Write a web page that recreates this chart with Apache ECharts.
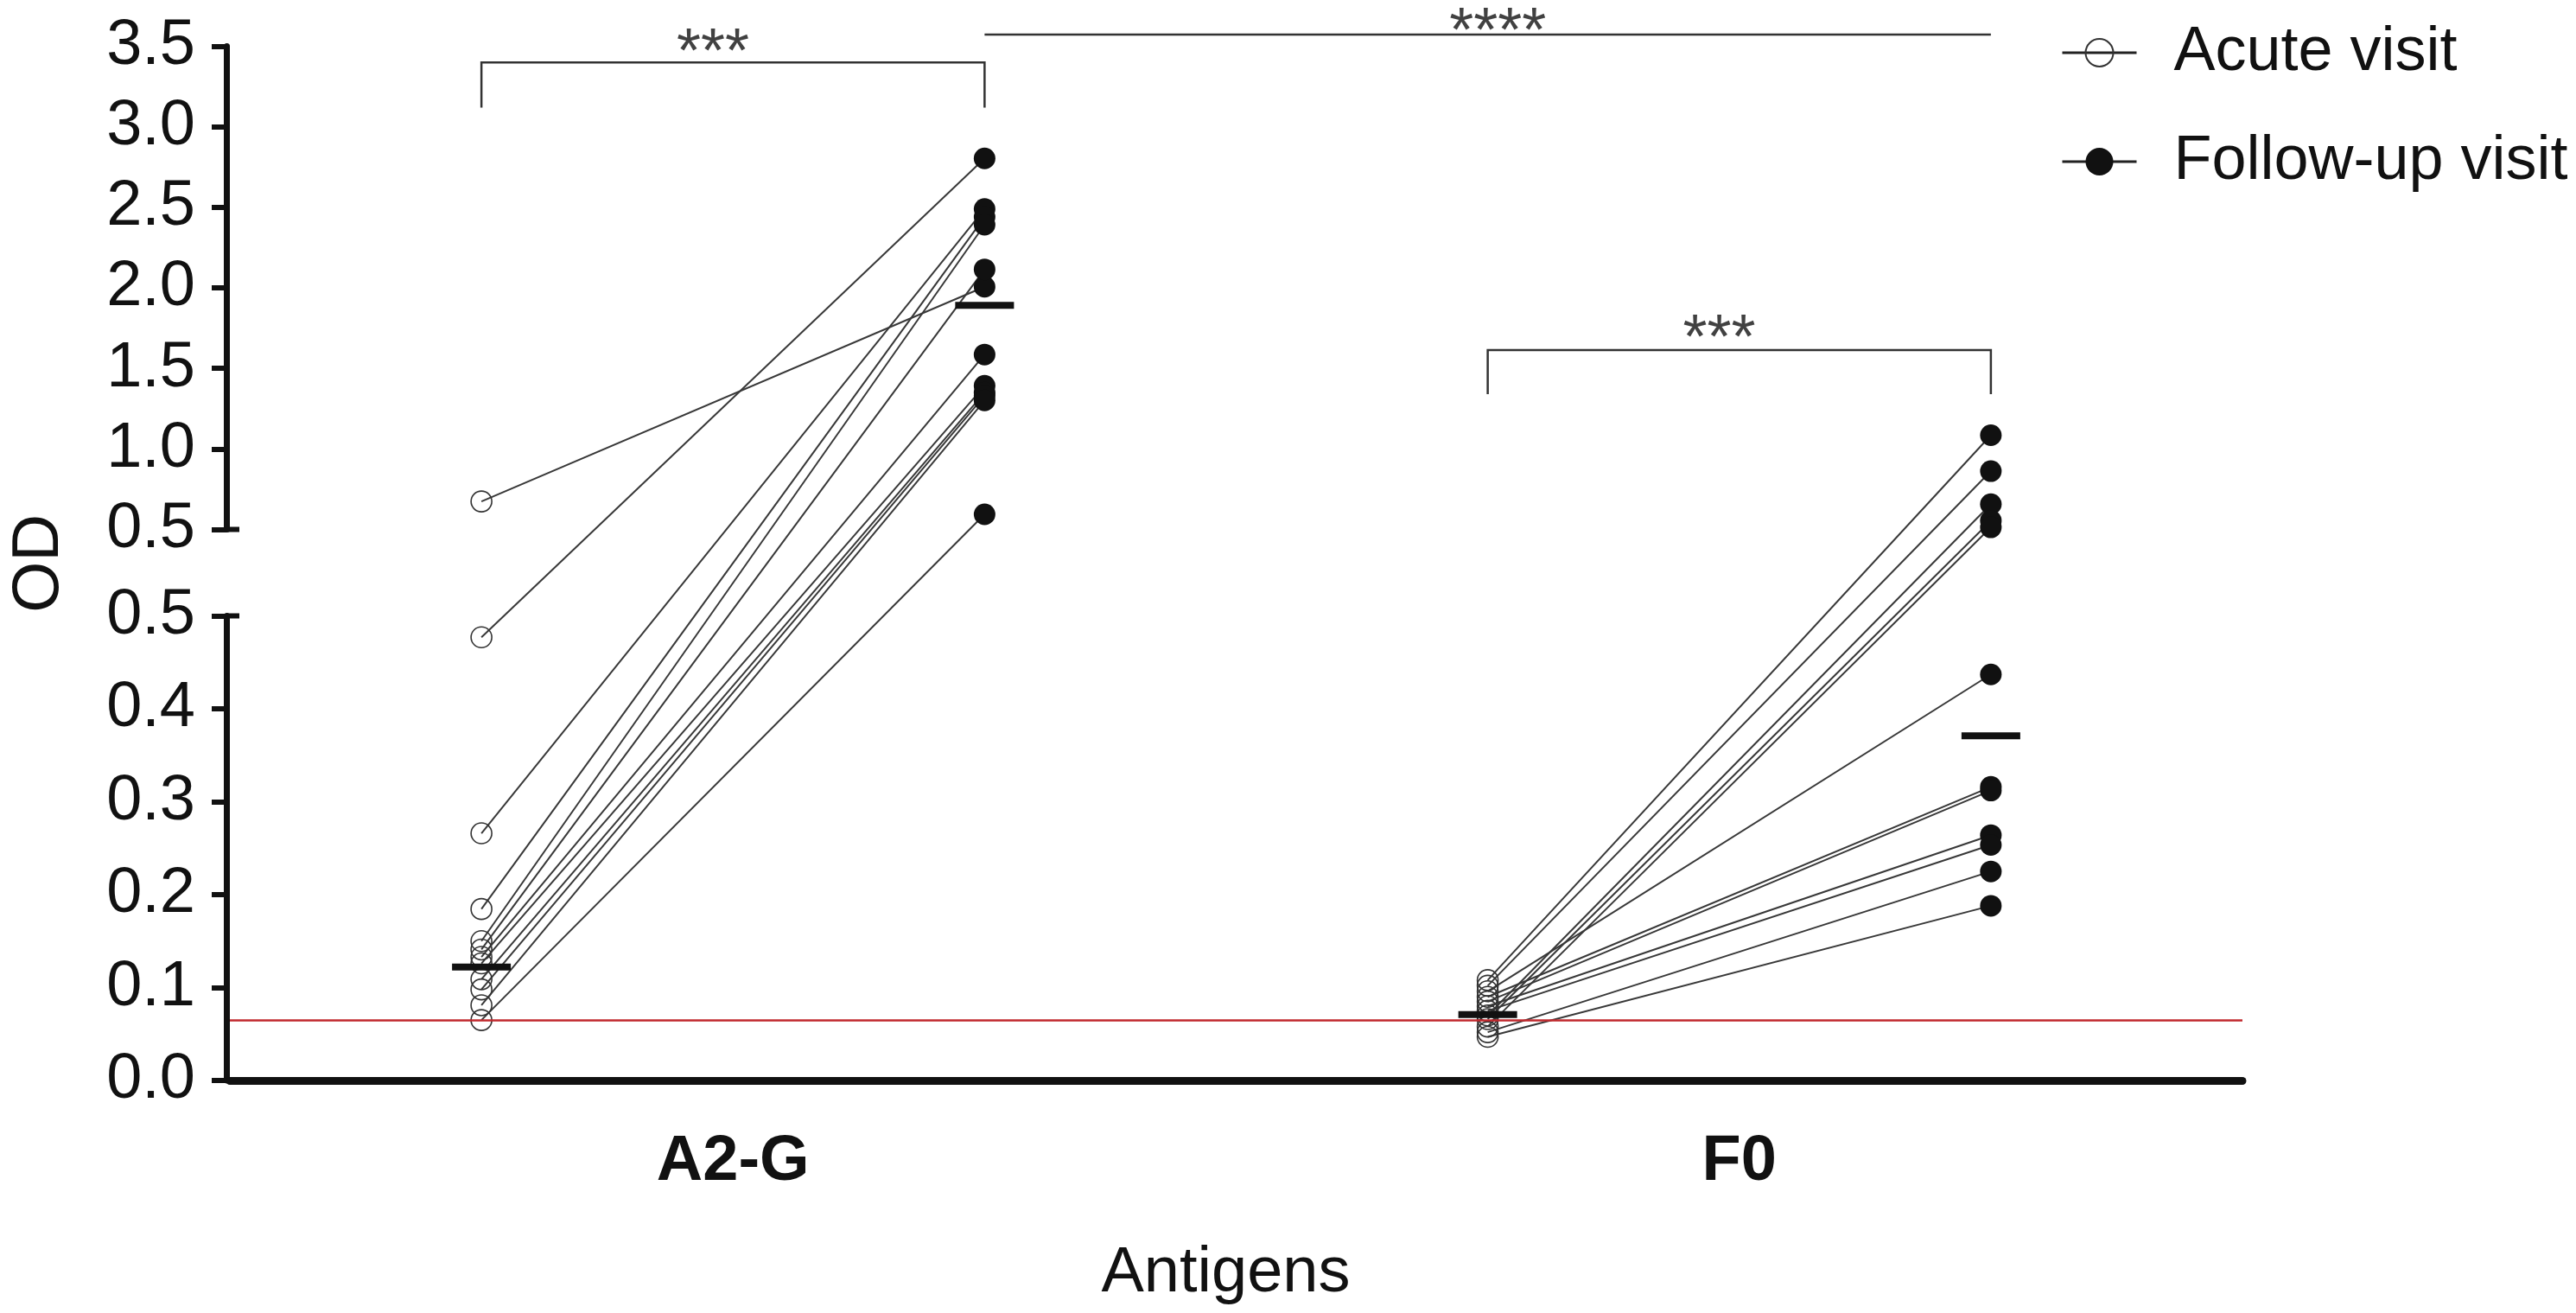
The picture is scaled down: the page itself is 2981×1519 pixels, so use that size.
<!DOCTYPE html>
<html>
<head>
<meta charset="utf-8">
<script src="https://cdn.jsdelivr.net/npm/echarts@6/dist/echarts.min.js"></script>
<style>
html,body{margin:0;padding:0;background:#fff;}
#chart{width:2981px;height:1519px;}
</style>
</head>
<body>
<div id="chart"></div>
<script>
// ---------------- data ----------------
const categories = ['A2-G', 'F0'];
const seriesNames = ['Acute visit', 'Follow-up visit'];
const a2gAcute  = [0.674, 0.477, 0.266, 0.1845, 0.150, 0.141, 0.133, 0.126, 0.109, 0.098, 0.081, 0.065];
const a2gFollow = [2.007, 2.804, 2.490, 2.440, 2.392, 2.115, 1.586, 1.392, 1.350, 1.330, 1.301, 0.594];
const f0Acute   = [0.108, 0.102, 0.096, 0.090, 0.085, 0.080, 0.075, 0.070, 0.066, 0.058, 0.052, 0.047];
const f0Follow  = [1.085, 0.862, 0.437, 0.316, 0.312, 0.264, 0.2535, 0.657, 0.554, 0.513, 0.225, 0.188];
const a2gMedians = [0.122, 1.891];
const f0Medians  = [0.071, 0.371];
const cutoff = 0.065;
const lowerTicks = ['0.0', '0.1', '0.2', '0.3', '0.4', '0.5'];
const upperTicks = ['0.5', '1.0', '1.5', '2.0', '2.5', '3.0', '3.5'];
const sigLabels = ['***', '***', '****'];
// annotation anchors (x in category units, y in OD)
const bracketSpans = [[0.25, 0.75, 3.40, 3.12], [1.25, 1.75, 1.614, 1.34], [0.75, 1.75, 3.573, 3.573]];
const sigAnchors = [[0.48, 3.45], [1.48, 1.67], [1.26, 3.58]];

// ---------------- layout ----------------
const LEFT = 262, AXW = 2333, TOP = 53.6, BOTTOM = 1250;
const UPPER_H = 558.9, GAP = 100, LOWER_H = 537.5;
const lowMin = +lowerTicks[0], lowMax = +lowerTicks[lowerTicks.length - 1];
const upMin = +upperTicks[0], upMax = +upperTicks[upperTicks.length - 1];
const TOTAL = LOWER_H + GAP + UPPER_H;
// broken-axis transform onto the shared overlay axis
function t(v) {
  return v <= lowMax ? (v - lowMin) / (lowMax - lowMin) * LOWER_H
                     : LOWER_H + GAP + (v - upMin) / (upMax - upMin) * UPPER_H;
}
const offsets = [-0.25, 0.25];
const catX = i => i + 0.5;

const pairData = [];
[[a2gAcute, a2gFollow], [f0Acute, f0Follow]].forEach(([ac, fu], ci) => {
  ac.forEach((v, i) => pairData.push({coords: [[catX(ci) + offsets[0], t(v)], [catX(ci) + offsets[1], t(fu[i])]]}));
});
const acutePts = a2gAcute.map(v => [catX(0) + offsets[0], t(v)]).concat(f0Acute.map(v => [catX(1) + offsets[0], t(v)]));
const followPts = a2gFollow.map(v => [catX(0) + offsets[1], t(v)]).concat(f0Follow.map(v => [catX(1) + offsets[1], t(v)]));
const medianPts = [];
[a2gMedians, f0Medians].forEach((m, ci) => m.forEach((v, k) => medianPts.push([catX(ci) + offsets[k], t(v)])));
const bracketData = bracketSpans.map(([x1, x2, y, leg]) => ({coords: [[x1, t(leg)], [x1, t(y)], [x2, t(y)], [x2, t(leg)]]}));
const sigData = sigAnchors.map(([x, y], i) => ({value: [x, t(y)], name: sigLabels[i]}));

const FONT = 'Liberation Sans, Arial, sans-serif';
const BLACK = '#111';

const chart = echarts.init(document.getElementById('chart'));
const yAxisCommon = {
  type: 'value',
  axisLine: {show: true, lineStyle: {color: BLACK, width: 7}},
  axisTick: {show: true, length: 17, lineStyle: {color: BLACK, width: 6}},
  axisLabel: {show: true, fontSize: 74, color: BLACK, fontFamily: FONT, margin: 36, formatter: v => v.toFixed(1)},
  splitLine: {show: false}
};
chart.setOption({
  animation: false,
  textStyle: {fontFamily: FONT},
  grid: [
    {left: LEFT, top: TOP, width: AXW, height: TOTAL},
    {left: LEFT, top: TOP, width: AXW, height: UPPER_H},
    {left: LEFT, top: TOP + UPPER_H + GAP, width: AXW, height: LOWER_H}
  ],
  xAxis: [
    {gridIndex: 0, type: 'value', min: 0, max: categories.length, show: false},
    {gridIndex: 0, type: 'category', data: categories, position: 'bottom',
     axisLine: {lineStyle: {color: BLACK, width: 9}},
     axisTick: {alignWithLabel: true, length: 30, lineStyle: {color: BLACK, width: 5}},
     axisLabel: {fontSize: 74, fontWeight: 'bold', color: BLACK, fontFamily: FONT, margin: 58},
     name: 'Antigens', nameLocation: 'middle', nameGap: 187,
     nameTextStyle: {fontSize: 74, color: BLACK, fontFamily: FONT, padding: [0, 24, 0, 0]}},
    {gridIndex: 1, type: 'value', show: false},
    {gridIndex: 2, type: 'value', show: false}
  ],
  yAxis: [
    {gridIndex: 0, type: 'value', min: 0, max: TOTAL, axisLine: {show: false}, axisTick: {show: false},
     axisLabel: {show: false}, splitLine: {show: false},
     name: 'OD', nameLocation: 'middle', nameGap: 182, nameRotate: 90,
     nameTextStyle: {fontSize: 76, color: BLACK, fontFamily: FONT}},
    Object.assign({gridIndex: 1, min: upMin, max: upMax, interval: +upperTicks[1] - +upperTicks[0]}, yAxisCommon),
    Object.assign({gridIndex: 2, min: lowMin, max: lowMax, interval: +lowerTicks[1] - +lowerTicks[0]}, yAxisCommon)
  ],
  legend: {
    orient: 'vertical', left: 2380, top: 20,
    itemWidth: 86, itemHeight: 40, itemGap: 54,
    data: seriesNames,
    textStyle: {fontSize: 72, color: BLACK, fontFamily: FONT, padding: [0, 0, 0, 38]},
    lineStyle: {color: '#222', width: 3, opacity: 1},
    itemStyle: {borderWidth: 2}
  },
  series: [
    {type: 'lines', coordinateSystem: 'cartesian2d', xAxisIndex: 0, yAxisIndex: 0, silent: true, clip: false,
     data: pairData, lineStyle: {color: '#383838', width: 2, opacity: 1}, z: 2},
    {name: seriesNames[0], type: 'line', xAxisIndex: 0, yAxisIndex: 0, data: acutePts,
     symbol: 'circle', symbolSize: 24, lineStyle: {opacity: 0, width: 0},
     itemStyle: {color: 'rgba(0,0,0,0)', borderColor: '#333', borderWidth: 1.6}, z: 3},
    {name: seriesNames[1], type: 'line', xAxisIndex: 0, yAxisIndex: 0, data: followPts,
     symbol: 'circle', symbolSize: 25, lineStyle: {opacity: 0, width: 0},
     itemStyle: {color: BLACK, borderWidth: 0}, z: 3},
    {type: 'scatter', xAxisIndex: 0, yAxisIndex: 0, data: medianPts, symbol: 'rect', symbolSize: [68, 8],
     itemStyle: {color: BLACK, opacity: 1}, silent: true, z: 4,
     markLine: {silent: true, symbol: 'none', label: {show: false},
       lineStyle: {color: '#c0282d', width: 2.5, type: 'solid', opacity: 1}, data: [{yAxis: t(cutoff)}]}},
    {type: 'lines', coordinateSystem: 'cartesian2d', xAxisIndex: 0, yAxisIndex: 0, silent: true, clip: false,
     polyline: true, data: bracketData, lineStyle: {color: '#333', width: 2.5, opacity: 1}, z: 2},
    {type: 'scatter', xAxisIndex: 0, yAxisIndex: 0, data: sigData, symbolSize: 1, clip: false, silent: true,
     itemStyle: {color: 'rgba(0,0,0,0)'},
     label: {show: true, position: 'inside', formatter: p => p.name, fontSize: 72, color: BLACK, fontFamily: FONT}}
  ],
  graphic: [
    {type: 'line', shape: {x1: LEFT, y1: TOP + UPPER_H, x2: LEFT + 15, y2: TOP + UPPER_H}, style: {stroke: BLACK, lineWidth: 6}},
    {type: 'line', shape: {x1: LEFT, y1: TOP + UPPER_H + GAP, x2: LEFT + 15, y2: TOP + UPPER_H + GAP}, style: {stroke: BLACK, lineWidth: 6}}
  ]
});
</script>
</body>
</html>
